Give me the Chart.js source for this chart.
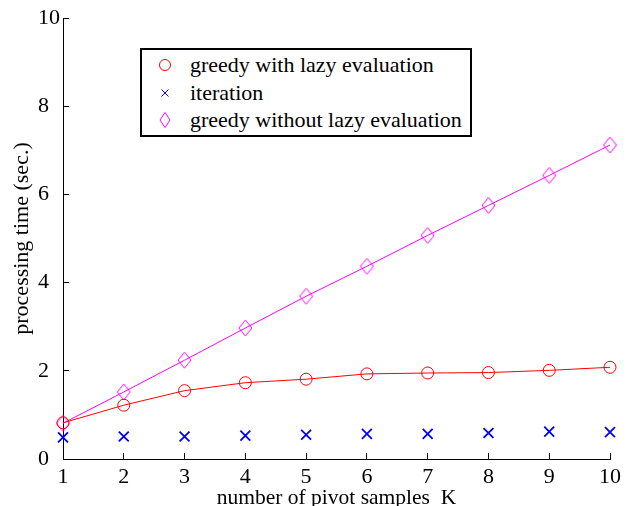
<!DOCTYPE html>
<html>
<head>
<meta charset="utf-8">
<script src="https://cdn.jsdelivr.net/npm/chart.js@4.4.1/dist/chart.umd.min.js"></script>
<style>
  body { margin: 0; background: #fff; }
  #wrap { position: relative; width: 632px; height: 506px; }
  #chartLegend {
    position: absolute; left: 140px; top: 48px; width: 332px; height: 89px;
    box-sizing: border-box; border: 2px solid #000; background: #fff;
    padding-top: 1.5px; font-family: "Liberation Serif", "Times New Roman", serif;
    font-size: 22px; color: #000;
  }
  .legend-item { display: flex; align-items: center; height: 27.5px; white-space: nowrap; }
  .legend-item svg { margin-left: 15px; margin-right: 17px; flex: none; }
</style>
</head>
<body>
<div id="wrap">
  <canvas id="timeChart" width="632" height="506"></canvas>
  <div id="chartLegend"></div>
</div>
<script>
// ── data ───────────────────────────────────────────────────────────────────
const kValues = ["1", "2", "3", "4", "5", "6", "7", "8", "9", "10"];
const lazyTimes = [0.82, 1.22, 1.55, 1.73, 1.81, 1.93, 1.95, 1.96, 2.01, 2.08];
const iterationTimes = [0.49, 0.51, 0.51, 0.53, 0.55, 0.57, 0.57, 0.59, 0.62, 0.61];
const noLazyTimes = [0.81, 1.52, 2.24, 2.97, 3.69, 4.37, 5.07, 5.75, 6.43, 7.12];
const yTicks = [0, 2, 4, 6, 8, 10];

const serif = "'Liberation Serif', 'Times New Roman', serif";

// tall diamond marker (matlab style), used as a point image
function diamondMarker(color) {
  const c = document.createElement("canvas");
  c.width = 15;
  c.height = 18;
  const g = c.getContext("2d");
  g.strokeStyle = color;
  g.lineWidth = 1;
  g.beginPath();
  g.moveTo(7.5, 1);
  g.lineTo(14, 9);
  g.lineTo(7.5, 17);
  g.lineTo(1, 9);
  g.closePath();
  g.stroke();
  return c;
}

const series = [
  { label: "greedy with lazy evaluation", color: "#ff0000", data: lazyTimes, marker: "circle" },
  { label: "iteration", color: "#0000ff", data: iterationTimes, marker: "cross" },
  { label: "greedy without lazy evaluation", color: "#ff00ff", data: noLazyTimes, marker: "diamond" },
];

const datasets = series.map((s) => ({
  label: s.label,
  data: s.data,
  borderColor: s.color,
  backgroundColor: "transparent",
  pointBackgroundColor: "transparent",
  pointBorderColor: s.color,
  borderWidth: 1,
  showLine: s.marker !== "cross",
  pointStyle: s.marker === "circle" ? "circle" : s.marker === "cross" ? "crossRot" : diamondMarker(s.color),
  pointRadius: s.marker === "circle" ? 6 : 7,
  pointBorderWidth: s.marker === "cross" ? 1.8 : 1,
  tension: 0,
}));

const tickFont = { family: serif, size: 22 };

new Chart(document.getElementById("timeChart"), {
  type: "line",
  data: { labels: kValues, datasets },
  options: {
    responsive: false,
    animation: false,
    layout: { padding: { left: 38, right: 10, top: 18, bottom: 0 } },
    plugins: { legend: { display: false }, tooltip: { enabled: false } },
    scales: {
      x: {
        type: "category",
        offset: false,
        border: { display: true, color: "#000", width: 1 },
        grid: { display: true, drawOnChartArea: false, drawTicks: true, tickLength: -6, color: "#000" },
        ticks: { color: "#000", font: tickFont, padding: 11, maxRotation: 0, autoSkip: false },
        title: {
          display: true,
          text: "number of pivot samples  K",
          color: "#000",
          font: { family: serif, size: 21.5 },
          padding: { top: 0, bottom: -5 },
        },
        afterFit: (s) => { s.height = 47; },
      },
      y: {
        min: 0,
        max: 10,
        border: { display: true, color: "#000", width: 1 },
        grid: { display: true, drawOnChartArea: false, drawTicks: true, tickLength: -6, color: "#000" },
        afterBuildTicks: (s) => { s.ticks = yTicks.map((v) => ({ value: v })); },
        ticks: { color: "#000", font: tickFont, crossAlign: "far" },
        title: {
          display: true,
          text: "processing time (sec.)",
          color: "#000",
          font: tickFont,
          padding: { top: -29, bottom: 0 },
        },
        afterFit: (s) => { s.width = 25; },
      },
    },
  },
});

// ── boxed legend in the upper left of the plot ─────────────────────────────
function markerSvg(s) {
  if (s.marker === "circle")
    return `<svg width="16" height="16"><circle cx="8" cy="8" r="5.5" fill="none" stroke="${s.color}" stroke-width="1"/></svg>`;
  if (s.marker === "cross")
    return `<svg width="16" height="16"><path d="M4.5 4.5L11.5 11.5M11.5 4.5L4.5 11.5" stroke="${s.color}" stroke-width="1"/></svg>`;
  return `<svg width="16" height="18"><path d="M8 1.5L13 9L8 16.5L3 9Z" fill="none" stroke="${s.color}" stroke-width="1"/></svg>`;
}

const legendEl = document.getElementById("chartLegend");
series.forEach((s) => {
  const item = document.createElement("div");
  item.className = "legend-item";
  item.innerHTML = `${markerSvg(s)}<span>${s.label}</span>`;
  legendEl.appendChild(item);
});
</script>
</body>
</html>
